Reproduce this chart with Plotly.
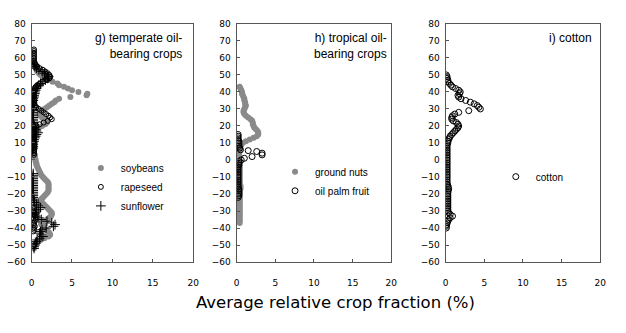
import plotly.graph_objects as go

# ---------------- data (latitude, average relative crop fraction %) ----------------
soy_lat = [58,57,56,55,54,53,52,51,50,49,48,47,46,45,44,43,42,41,40,39,38,37,36,35,34,33,32,31,30,29,28,27,26,25,24,23,22,21,20,19,18,17,16,15,14,13,12,11,10,9,8,7,6,5,4,3,2,1,0,-1,-2,-3,-4,-5,-6,-7,-8,-9,-10,-11,-12,-13,-14,-15,-16,-17,-18,-19,-20,-21,-22,-23,-24,-25,-26,-27,-28,-29,-30,-31,-32,-33,-34,-35,-36,-37,-38,-39,-40,-41,-42,-43,-44,-45,-46,-47,-48,-49,-50,-51,-52]
soy_val = [0.3,0.3,0.4,0.4,0.5,0.6,0.7,0.9,1.1,1.4,1.7,2.0,2.6,3.2,3.4,4.0,4.5,5.0,5.8,6.9,6.8,4.8,3.4,3.0,2.8,2.5,2.2,1.9,1.6,1.3,1.1,1.0,1.1,1.3,1.5,1.8,1.9,1.7,1.3,0.9,0.6,0.5,0.4,0.4,0.3,0.3,0.3,0.3,0.3,0.3,0.3,0.3,0.3,0.3,0.3,0.4,0.4,0.4,0.5,0.5,0.6,0.6,0.7,0.8,0.9,1.0,1.1,1.2,1.4,1.6,1.8,2.0,2.1,2.1,2.1,2.1,2.1,2.0,1.8,1.6,1.4,1.2,1.2,1.3,1.5,1.7,1.9,2.1,2.3,2.5,2.5,2.4,2.2,1.9,1.5,1.2,1.2,1.4,1.6,1.8,2.0,2.2,2.3,2.1,1.6,1.1,0.8,0.6,0.4,0.3,0.3]

rape_lat = [65,64,63,62,61,60,59,58,57,56,55,54,53,52,51,50,49,48,47,46,45,44,43,42,41,40,39,38,37,36,35,34,33,32,31,30,29,28,27,26,25,24,23,22,21,20,19,18,17,16,15,14,13,12,11,10,9,8,7,6,5,4,3,-28,-29,-30,-31,-32,-33,-34,-35,-36,-37,-38,-39,-40,-41,-42]
rape_val = [0.3,0.3,0.3,0.3,0.3,0.3,0.3,0.3,0.4,0.5,0.7,1.0,1.4,1.7,2.0,2.2,2.3,2.2,1.9,1.4,1.0,0.7,0.5,0.4,0.4,0.3,0.3,0.3,0.3,0.3,0.3,0.3,0.3,0.4,0.6,0.9,1.2,1.5,1.8,2.1,2.3,2.5,2.0,1.5,1.0,0.6,0.4,0.3,0.3,0.3,0.3,0.3,0.3,0.3,0.3,0.3,0.3,0.3,0.3,0.3,0.3,0.3,0.3,0.3,0.3,0.3,0.4,0.4,0.4,0.5,0.5,0.4,0.3,0.3,0.4,0.3,0.3,0.2]

sun_lat = [56,55,54,53,52,51,50,49,48,47,46,45,44,43,42,41,40,39,38,37,36,35,34,33,32,31,30,29,28,27,26,25,24,23,22,21,20,19,18,17,16,15,14,13,12,11,10,9,8,7,6,-8,-9,-10,-11,-12,-13,-14,-15,-16,-17,-18,-19,-20,-21,-22,-23,-24,-25,-26,-27,-28,-29,-30,-31,-32,-33,-34,-35,-36,-37,-38,-39,-40,-41,-42,-43,-44,-45,-46,-47,-48,-49,-50,-51,-52]
sun_val = [0.3,0.4,0.6,0.9,1.3,1.6,1.9,2.1,2.0,1.7,1.4,1.1,0.9,0.7,0.6,0.5,0.4,0.4,0.3,0.3,0.2,0.2,0.1,0.1,0.2,0.3,0.2,0.2,0.2,0.2,0.2,0.2,0.2,0.2,0.2,0.3,0.3,0.4,0.5,0.6,0.8,0.6,0.5,0.4,0.3,0.3,0.2,0.2,0.2,0.2,0.1,0.2,0.2,0.2,0.2,0.2,0.2,0.2,0.2,0.2,0.2,0.2,0.2,0.2,0.2,0.2,0.3,0.3,0.4,0.6,0.8,1.1,0.9,0.6,0.4,0.3,0.5,0.9,1.2,1.9,2.5,2.9,2.7,1.8,1.3,1.1,1.0,1.2,1.4,1.0,0.7,0.6,0.5,0.4,0.3,0.3]

gn_lat = [43,42,41,40,39,38,37,36,35,34,33,32,31,30,29,28,27,26,25,24,23,22,21,20,19,18,17,16,15,14,13,12,11,10,9,8,7,6,5,4,3,2,1,0,-1,-2,-3,-4,-5,-6,-7,-8,-9,-10,-11,-12,-13,-14,-15,-16,-17,-18,-19,-20,-21,-22,-23,-24,-25,-26,-27,-28,-29,-30,-31,-32,-33,-34,-35,-36,-37]
gn_val = [0.4,0.5,0.6,0.7,0.7,0.8,0.9,1.0,1.0,1.1,1.1,1.2,1.1,1.0,0.9,0.9,1.0,1.2,1.5,1.8,2.0,2.1,2.1,2.2,2.3,2.5,2.7,2.8,2.8,2.6,2.2,1.7,1.2,0.8,0.6,0.5,0.4,0.4,0.4,0.3,0.3,0.3,0.3,0.4,0.4,0.4,0.4,0.4,0.4,0.4,0.4,0.4,0.4,0.4,0.4,0.4,0.4,0.4,0.5,0.5,0.5,0.4,0.4,0.4,0.4,0.4,0.4,0.4,0.4,0.4,0.4,0.4,0.4,0.4,0.4,0.4,0.4,0.4,0.4,0.4,0.4]

op_lat = [15,14,13,12,11,10,9,8,7,6,5.5,5,4,3,2,1,0,-1,-2,-3,-4,-5,-6,-7,-8,-9,-10,-11,-12,-13,-14,-15,-16,-17,-18,-19,-20,-21,-22]
op_val = [0.2,0.2,0.2,0.2,0.3,0.3,0.3,0.3,0.4,0.5,1.5,2.6,3.3,3.3,2.0,1.0,0.6,0.3,0.3,0.3,0.2,0.2,0.2,0.2,0.2,0.2,0.2,0.2,0.2,0.2,0.2,0.2,0.2,0.3,0.3,0.3,0.3,0.3,0.2]

cot_lat = [50,49,48,47,46,45,44,43,42,41,40,39,38,37,36,35,34,33,32,31,30,29,28,27,26,25,24,23,22,21,20,19,18,17,16,15,14,13,12,11,10,9,8,7,6,5,4,3,2,1,0,-1,-2,-3,-4,-5,-6,-7,-8,-9,-10,-11,-12,-13,-14,-15,-16,-17,-18,-19,-20,-21,-22,-23,-24,-25,-26,-27,-28,-29,-30,-31,-32,-33,-34,-35,-36,-37,-38,-39,-40]
cot_val = [0.1,0.2,0.2,0.3,0.3,0.5,0.7,0.9,1.3,1.7,1.9,1.8,1.6,1.7,2.0,2.6,3.2,3.7,4.1,4.3,4.5,3.0,1.7,1.2,0.9,0.8,0.8,1.0,1.4,1.6,1.7,1.6,1.4,1.2,1.0,0.8,0.6,0.5,0.4,0.3,0.3,0.2,0.2,0.2,0.2,0.2,0.2,0.2,0.2,0.2,0.2,0.2,0.2,0.2,0.2,0.2,0.2,0.2,0.2,0.2,0.2,0.2,0.2,0.2,0.2,0.3,0.35,0.4,0.35,0.3,0.3,0.3,0.3,0.3,0.3,0.3,0.3,0.3,0.3,0.3,0.3,0.4,0.6,0.9,0.6,0.4,0.3,0.2,0.15,0.1,0.1]

x_ticks = [0, 5, 10, 15, 20]
y_ticks = [-60, -50, -40, -30, -20, -10, 0, 10, 20, 30, 40, 50, 60, 70, 80]
panel_titles = ["g) temperate oil-<br>bearing crops", "h) tropical oil-<br>bearing crops", "i) cotton"]
x_title = "Average relative crop fraction (%)"

# ---------------- figure ----------------
W, H = 626, 333
GRAY = "#8a8a8a"
SANS = "Liberation Sans, Arial, Helvetica, sans-serif"
fig = go.Figure()

def px_x(p):
    return p / W

def px_y(p):
    return (H - p) / H

fig.add_trace(go.Scatter(x=soy_val, y=soy_lat, mode="markers", name="soybeans",
                         marker=dict(symbol="circle", size=6, color=GRAY),
                         xaxis="x", yaxis="y", legend="legend"))
fig.add_trace(go.Scatter(x=rape_val, y=rape_lat, mode="markers", name="rapeseed",
                         marker=dict(symbol="circle-open", size=5, color="black", line=dict(width=1)),
                         xaxis="x", yaxis="y", legend="legend"))
fig.add_trace(go.Scatter(x=sun_val, y=sun_lat, mode="markers", name="sunflower",
                         marker=dict(symbol="cross-thin", size=7, color="black", line=dict(width=1, color="black")),
                         xaxis="x", yaxis="y", legend="legend"))
fig.add_trace(go.Scatter(x=gn_val, y=gn_lat, mode="markers", name="ground nuts",
                         marker=dict(symbol="circle", size=6, color=GRAY),
                         xaxis="x2", yaxis="y2", legend="legend2"))
fig.add_trace(go.Scatter(x=op_val, y=op_lat, mode="markers", name="oil palm fruit",
                         marker=dict(symbol="circle-open", size=6, color="black", line=dict(width=1)),
                         xaxis="x2", yaxis="y2", legend="legend2"))
fig.add_trace(go.Scatter(x=cot_val, y=cot_lat, mode="markers", name="cotton",
                         marker=dict(symbol="circle-open", size=6, color="black", line=dict(width=1)),
                         xaxis="x3", yaxis="y3", legend="legend3"))

x_domains = [(29, 193), (237, 394), (449, 606)]
y_dom = [px_y(265), px_y(19.5)]
tickfont = dict(family="DejaVu Sans", size=9, color="black")

axis_common = dict(showgrid=False, zeroline=False, showline=True, linecolor="#555555",
                   linewidth=1.2, mirror=True, ticks="inside", ticklen=3,
                   tickcolor="#555555", tickfont=tickfont)

for i, (a, b) in enumerate(x_domains):
    sfx = "" if i == 0 else str(i + 1)
    fig.update_layout(**{
        "xaxis" + sfx: dict(domain=[px_x(a), px_x(b)], range=[0, 20], tickvals=x_ticks,
                            anchor="y" + sfx, ticklabelstandoff=12, **axis_common),
        "yaxis" + sfx: dict(domain=y_dom, range=[-60, 80], tickvals=y_ticks,
                            anchor="x" + sfx, ticklabelstandoff=3, **axis_common),
    })

# panel titles
title_right = [184, 392, 600]
for t, xr in zip(panel_titles, title_right):
    fig.add_annotation(text=t, x=px_x(xr), y=px_y(25), xref="paper", yref="paper",
                       xanchor="right", yanchor="top", align="right", showarrow=False,
                       font=dict(family=SANS, size=12, color="black"))

fig.add_annotation(text=x_title, x=px_x(337.5), y=px_y(307), xref="paper", yref="paper",
                   xanchor="center", yanchor="middle", showarrow=False,
                   font=dict(family="DejaVu Sans", size=16.5, color="black"))

legfont = dict(family=SANS, size=10, color="black")
leg_common = dict(font=legfont, bgcolor="rgba(0,0,0,0)", borderwidth=0,
                  xanchor="left", yanchor="top", itemsizing="trace",
                  tracegroupgap=0)
fig.update_layout(
    width=W, height=H,
    margin=dict(l=0, r=0, t=0, b=0),
    paper_bgcolor="white", plot_bgcolor="white",
    showlegend=True,
    legend=dict(x=px_x(79), y=px_y(153), **leg_common),
    legend2=dict(x=px_x(276), y=px_y(157), **leg_common),
    legend3=dict(x=px_x(500), y=px_y(162), **leg_common),
)

fig.write_html("out.html")
